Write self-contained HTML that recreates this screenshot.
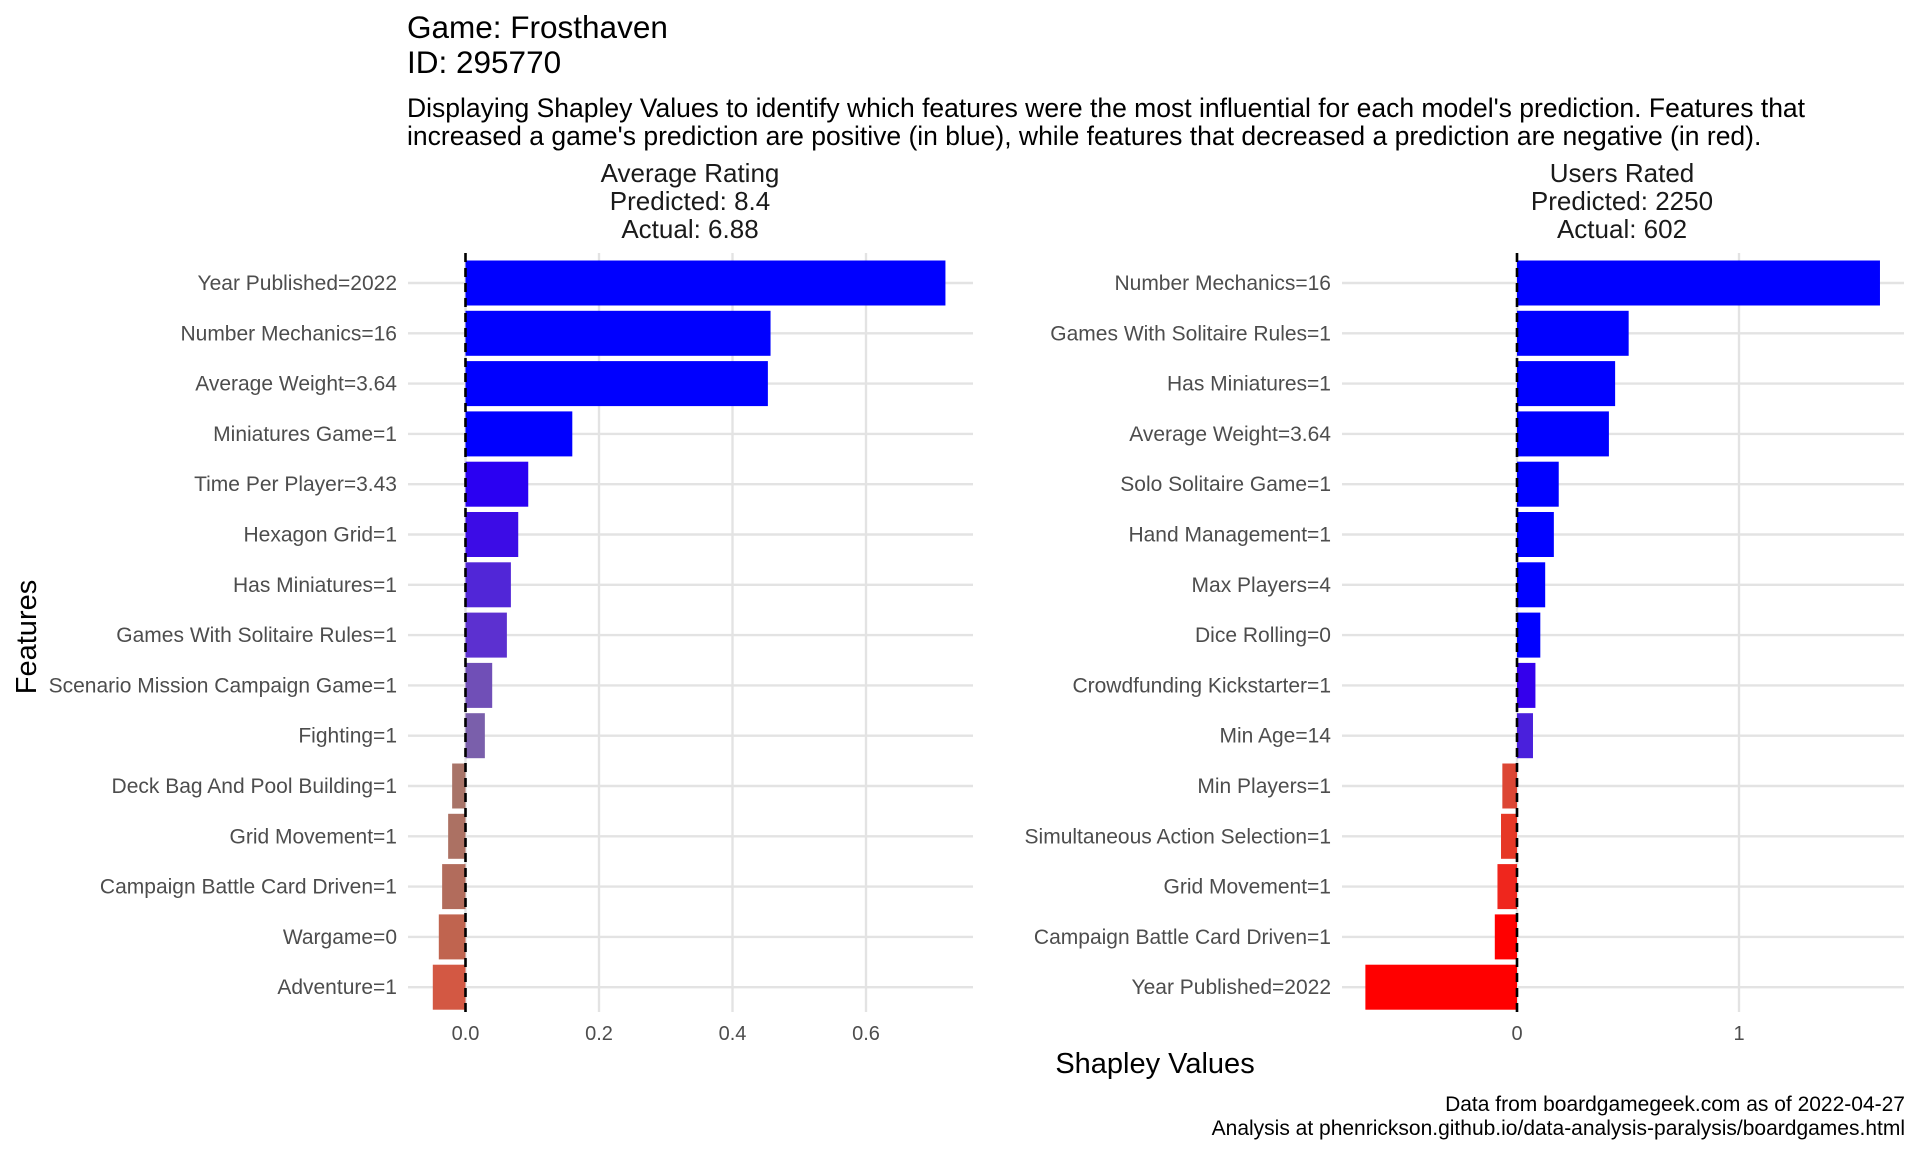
<!DOCTYPE html>
<html><head><meta charset="utf-8"><style>
html,body{margin:0;padding:0;background:#fff;}
svg{display:block;font-family:"Liberation Sans",Arial,sans-serif;}
</style></head><body>
<svg id="chart" width="1920" height="1152" viewBox="0 0 1920 1152" xmlns="http://www.w3.org/2000/svg">
<text x="407" y="38" font-size="31.5" fill="#000">Game: Frosthaven</text>
<text x="407" y="73" font-size="31.5" fill="#000">ID: 295770</text>
<text x="407" y="117" font-size="26.5" fill="#000">Displaying Shapley Values to identify which features were the most influential for each model's prediction. Features that</text>
<text x="407" y="145" font-size="26.5" fill="#000">increased a game's prediction are positive (in blue), while features that decreased a prediction are negative (in red).</text>
<text transform="translate(36,637) rotate(-90)" text-anchor="middle" font-size="29" fill="#000">Features</text>
<text x="1155" y="1073" text-anchor="middle" font-size="29" fill="#000">Shapley Values</text>
<text x="1905" y="1111" text-anchor="end" font-size="21" fill="#000">Data from boardgamegeek.com as of 2022-04-27</text>
<text x="1905" y="1135" text-anchor="end" font-size="21" fill="#000">Analysis at phenrickson.github.io/data-analysis-paralysis/boardgames.html</text>
<g id="panels"></g>
</svg>
<script>
const leftFeatures = ["Year Published=2022","Number Mechanics=16","Average Weight=3.64","Miniatures Game=1","Time Per Player=3.43","Hexagon Grid=1","Has Miniatures=1","Games With Solitaire Rules=1","Scenario Mission Campaign Game=1","Fighting=1","Deck Bag And Pool Building=1","Grid Movement=1","Campaign Battle Card Driven=1","Wargame=0","Adventure=1"];
const leftValues = [0.719,0.457,0.453,0.160,0.094,0.079,0.068,0.062,0.040,0.029,-0.020,-0.026,-0.035,-0.040,-0.049];
const leftTicks = [0,0.2,0.4,0.6];
const leftTickLabels = ["0.0","0.2","0.4","0.6"];
const leftTitle = ["Average Rating","Predicted: 8.4","Actual: 6.88"];

const rightFeatures = ["Number Mechanics=16","Games With Solitaire Rules=1","Has Miniatures=1","Average Weight=3.64","Solo Solitaire Game=1","Hand Management=1","Max Players=4","Dice Rolling=0","Crowdfunding Kickstarter=1","Min Age=14","Min Players=1","Simultaneous Action Selection=1","Grid Movement=1","Campaign Battle Card Driven=1","Year Published=2022"];
const rightValues = [1.635,0.503,0.442,0.414,0.188,0.166,0.127,0.105,0.083,0.072,-0.066,-0.072,-0.088,-0.100,-0.683];
const rightTicks = [0,1];
const rightTickLabels = ["0","1"];
const rightTitle = ["Users Rated","Predicted: 2250","Actual: 602"];

const NS = "http://www.w3.org/2000/svg";
const root = document.getElementById("panels");
function mk(tag, attrs, parent){const e=document.createElementNS(NS,tag);for(const k in attrs)e.setAttribute(k,attrs[k]);(parent||root).appendChild(e);return e;}
function hex(c){return [parseInt(c.slice(1,3),16),parseInt(c.slice(3,5),16),parseInt(c.slice(5,7),16)];}
const posStops=[[0,"#8a7690"],[0.29,"#7a5fab"],[0.62,"#5c30d0"],[0.72,"#4a20dc"],[0.83,"#3400ec"],[0.94,"#2a00f2"],[1,"#0000ff"]];
const negStops=[[0,"#8a7690"],[0.2,"#a87468"],[0.35,"#b26c5c"],[0.4,"#c0644f"],[0.49,"#d35843"],[0.66,"#dc4634"],[0.72,"#e63826"],[0.88,"#ef261d"],[1,"#ff0000"]];
function colorFor(v){
  const t=Math.min(1,Math.abs(v)/0.1);const st=v>=0?posStops:negStops;
  for(let i=1;i<st.length;i++){if(t<=st[i][0]){const a=st[i-1],b=st[i];const f=(t-a[0])/(b[0]-a[0]);const ca=hex(a[1]),cb=hex(b[1]);return "rgb("+ca.map((x,j)=>Math.round(x+(cb[j]-x)*f)).join(",")+")";}}
  return st[st.length-1][1];
}
const rowTop=283, rowStep=50.3, barH=45;
function yPos(i){return rowTop+i*rowStep;}

function panel(name, features, values, ticks, tickLabels, titleLines, gx0, gx1, zeroX, perUnit, labelRight, titleX){
  const g=mk("g",{});
  
  
  const xs=v=>zeroX+v*perUnit;
  titleLines.forEach((t,i)=>{const e=mk("text",{x:titleX,y:182+i*28,"text-anchor":"middle","font-size":26,fill:"#1a1a1a"},g);e.textContent=t;
    
    });
  const top=253, bottom=1012;
  ticks.forEach((t,i)=>{const l=mk("line",{x1:xs(t),x2:xs(t),y1:top,y2:bottom,stroke:"#e3e3e3","stroke-width":2.4},g);
    
    
    const tx=mk("text",{x:xs(t),y:1040,"text-anchor":"middle","font-size":20,fill:"#4d4d4d"},g);tx.textContent=tickLabels[i];
    
    });
  features.forEach((f,i)=>{const y=yPos(i);
    const l=mk("line",{x1:gx0,x2:gx1,y1:y,y2:y,stroke:"#e3e3e3","stroke-width":2.4},g);
    
    
    const t=mk("text",{x:labelRight,y:y+7,"text-anchor":"end","font-size":21,fill:"#4d4d4d"},g);t.textContent=f;
    
    });
  values.forEach((v,i)=>{const y=yPos(i);const x0=Math.min(xs(0),xs(v)),w=Math.abs(xs(v)-xs(0));
    const r=mk("rect",{x:x0,y:y-barH/2,width:w,height:barH,fill:colorFor(v)},g);
    
    });
  const z=mk("line",{x1:xs(0),x2:xs(0),y1:top,y2:bottom,stroke:"#000","stroke-width":2.6,"stroke-dasharray":"9,6"},g);
  
  
}
panel("average-rating-panel",leftFeatures,leftValues,leftTicks,leftTickLabels,leftTitle,408,973,465.5,667.5,397,690);
panel("users-rated-panel",rightFeatures,rightValues,rightTicks,rightTickLabels,rightTitle,1342,1904,1517,222,1331,1622);
</script>
</body></html>
